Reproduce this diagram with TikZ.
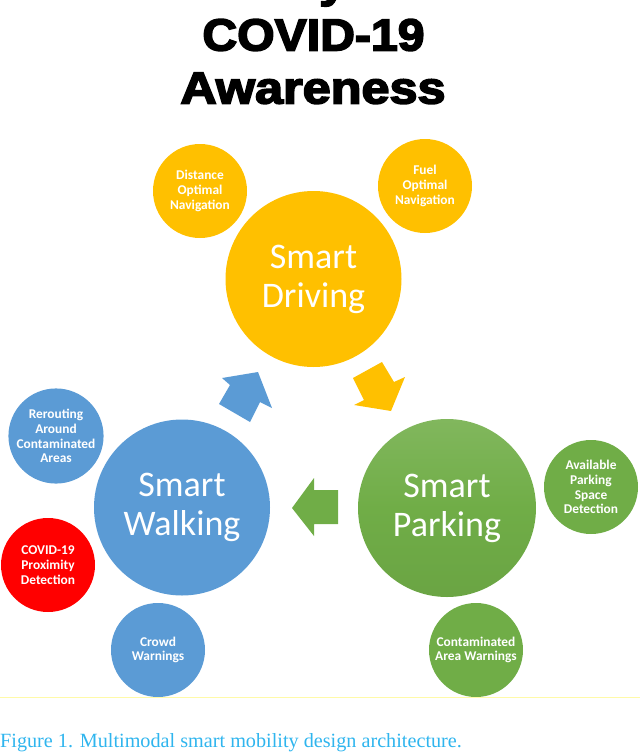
\documentclass[tikz,border=0pt]{standalone}
\usepackage{fontspec}
\setmainfont{Carlito}
\newfontfamily\titlefont[FakeBold=3.5]{Liberation Sans Bold}
\newfontfamily\capfont{Liberation Serif}
\definecolor{gold}{HTML}{FFC000}
\definecolor{bluec}{HTML}{5B9BD5}
\definecolor{greenc}{HTML}{70AD47}
\definecolor{capblue}{HTML}{2FB5EE}
\definecolor{ruley}{HTML}{FFFAA8}
\tikzset{
  big/.style={circle,minimum size=#1,inner sep=0pt,text=white,align=center,font=\fontsize{36}{39}\selectfont},
  small/.style={circle,minimum size=94pt,inner sep=0pt,text=white,align=center,font=\bfseries\fontsize{13.4}{14.8}\selectfont},
  titletext/.style={inner sep=0pt,font=\titlefont\fontsize{45}{45}\selectfont}
}
\begin{document}
\begin{tikzpicture}[x=1pt,y=-1pt]
\useasboundingbox (0,0) rectangle (640,753);
\clip (0,0) rectangle (640,753);
\node[titletext,anchor=base,xscale=1.1] (t0) at (333,-3) {y};
\node[titletext,anchor=base,xscale=1.07] (t1) at (313.5,50.5) {COVID-19};
\node[titletext,anchor=base,xscale=1.12] (t2) at (313,103.5) {Awareness};
\node[big=176pt,fill=gold] (drv) at (313.5,279) {Smart\\Driving};
\node[big=178pt,top color=greenc!88!white,bottom color=greenc!95!black,middle color=greenc] (prk) at (447,508) {Smart\\Parking};
\node[big=176pt,fill=bluec] (wlk) at (182,507.5) {Smart\\Walking};
\node[small,fill=gold] (a1) at (200,191) {Distance\\Optimal\\Navigation};
\node[small,fill=gold] (a2) at (425,186) {Fuel\\Optimal\\Navigation};
\node[small,fill=bluec] (b1) at (56,436) {Rerouting\\Around\\Contaminated\\Areas};
\node[small,fill=red] (b2) at (48,565) {COVID-19\\Proximity\\Detection};
\node[small,fill=bluec] (b3) at (158,650) {Crowd\\Warnings};
\node[small,fill=greenc] (c1) at (591,487) {Available\\Parking\\Space\\Detection};
\node[small,fill=greenc] (c2) at (476,650) {Contaminated\\Area Warnings};
\fill[gold] (353,378) -- (382,362) -- (394,382) -- (405,377) -- (391,411) -- (354,405) -- (364,400) -- cycle;
\fill[bluec] (219,404) -- (230,385) -- (222,378) -- (258,372) -- (272,408) -- (260,402) -- (250,422) -- cycle;
\fill[greenc] (338,490) -- (314,490) -- (314,478) -- (292,508) -- (314,536) -- (314,524) -- (338,524) -- cycle;
\draw[ruley,line width=1.5pt] (0,697.5) -- (640,697.5);
\node[anchor=base west,inner sep=0pt,text=capblue,font=\capfont\fontsize{20.2}{24}\selectfont] (cap) at (0,747) {Figure 1. Multimodal smart mobility design architecture.};
\end{tikzpicture}
\end{document}
